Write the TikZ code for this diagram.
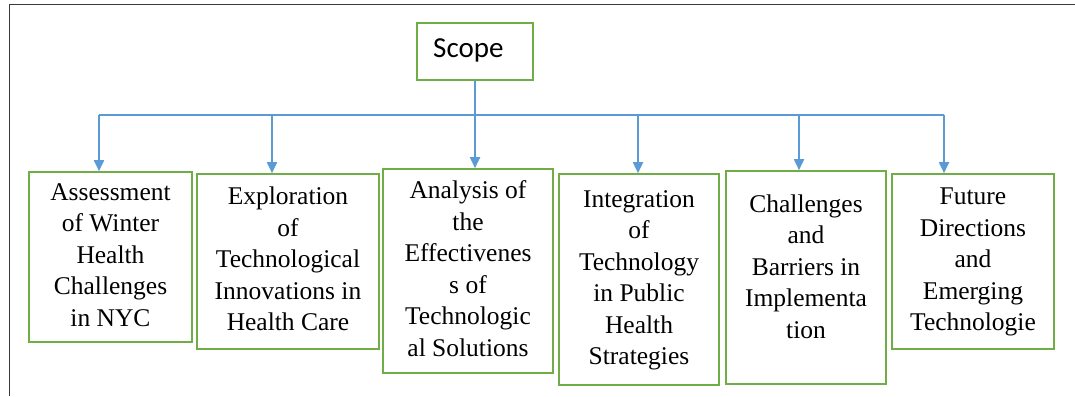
\documentclass[tikz,border=0pt]{standalone}
\usepackage{fontspec}
\setmainfont{Liberation Serif}[Ligatures=NoCommon]
\newfontfamily\boxfont{Liberation Serif}[Ligatures=NoCommon]
\newfontfamily\scopefont{Carlito}[Ligatures=NoCommon]
\usetikzlibrary{arrows.meta}
\definecolor{linkblue}{HTML}{5B9BD5}
\definecolor{boxgreen}{HTML}{70AD47}
\definecolor{framegray}{HTML}{3A3A3A}
% stacked, centred lines for the branch boxes
\newcommand{\lines}[1]{\begin{tabular}{@{}c@{}}#1\end{tabular}}
\begin{document}
\begin{tikzpicture}[x=1pt,y=-1pt,
  box/.style={draw=boxgreen, line width=1.6pt, rectangle, inner sep=0pt,
    font=\boxfont\fontsize{25.5pt}{31.5pt}\selectfont},
  txt/.style={inner sep=0pt, font=\boxfont\fontsize{25.5pt}{31.5pt}\selectfont},
  rootbox/.style={draw=boxgreen, line width=1.6pt, rectangle, inner sep=0pt},
  link/.style={draw=linkblue, line width=1.8pt},
  arr/.style={link, -{Triangle[width=10pt,length=11pt]}},
]
\useasboundingbox (0,0) rectangle (1075,396);

% page frame
\draw[framegray, line width=1.8pt] (9.5,396) -- (9.5,4.5) -- (1075,4.5);

% branches
\node[box, minimum width=163pt, minimum height=170pt] (b1) at (110.5,257)
  {\lines{Assessment\\of Winter\\Health\\Challenges\\in NYC}};
\node[box, minimum width=182pt, minimum height=175pt] (b2) at (288,261.5)
  {\lines{Exploration\\of\\Technological\\Innovations in\\Health Care}};
\node[box, minimum width=170pt, minimum height=204pt] (b3) at (468,271)
  {\lines{Analysis of\\the\\Effectivenes\\s of\\Technologic\\al Solutions}};
\node[box, minimum width=160pt, minimum height=211pt] (b4) at (639,279.5)
  {\lines{Integration\\of\\Technology\\in Public\\Health\\Strategies}};
\node[box, minimum width=160pt, minimum height=213pt] (b5) at (806,277.5) {};
\node[txt, anchor=north] (t5) at (806,190)
  {\lines{Challenges\\and\\Barriers in\\Implementa\\tion}};
\node[box, minimum width=162pt, minimum height=175pt] (b6) at (973,261.5)
  {\lines{Future\\Directions\\and\\Emerging\\Technologie}};

% root
\node[rootbox, minimum width=116pt, minimum height=57pt] (scope) at (475,51.5) {};
\node[inner sep=0pt, anchor=base west, font=\scopefont\fontsize{29pt}{34pt}\selectfont]
  (scopetext) at (433,57.5) {Scope};

% distribution bar
\coordinate (h1) at (99,115);
\coordinate (h2) at (272,115);
\coordinate (h4) at (638,115);
\coordinate (h5) at (799,115);
\coordinate (h6) at (944,115);
\draw[link] (h1) -- (h6);

\draw[arr] (scope.south) -- (scope.south |- b3.north);
\draw[arr] (h1) -- (h1 |- b1.north);
\draw[arr] (h2) -- (h2 |- b2.north);
\draw[arr] (h4) -- (h4 |- b4.north);
\draw[arr] (h5) -- (h5 |- b5.north);
\draw[arr] (h6) -- (h6 |- b6.north);
\end{tikzpicture}
\end{document}
